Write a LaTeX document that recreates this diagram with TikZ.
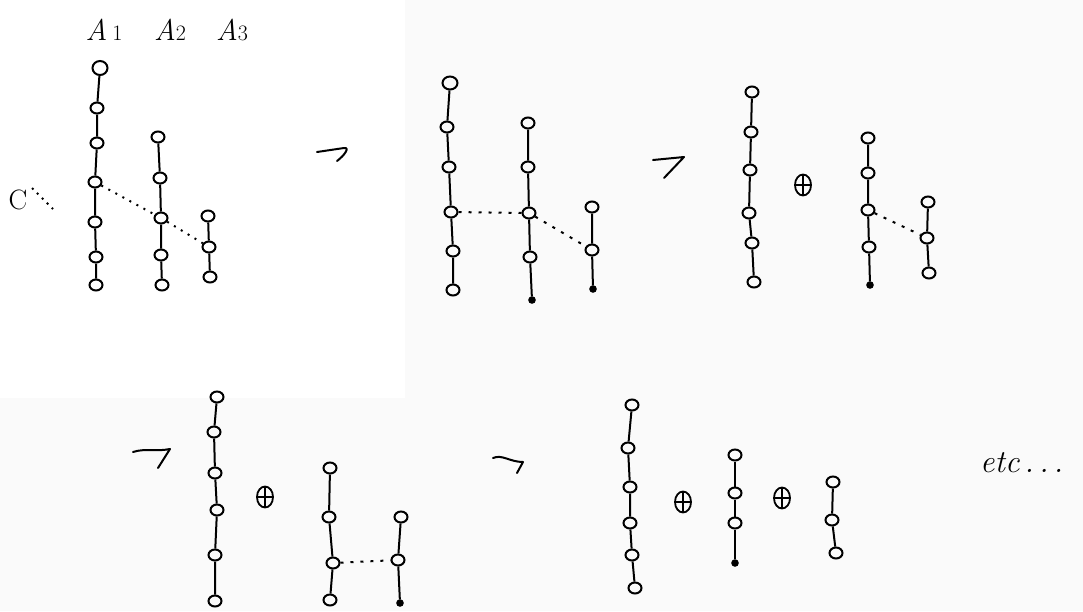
\documentclass[tikz,border=0pt]{standalone}
\usepackage{fontspec}
\usetikzlibrary{shapes.geometric}
\begin{document}
\begin{tikzpicture}[x=1pt,y=-1pt,
  ring/.style={ellipse,draw,line width=2pt,inner sep=0pt,minimum width=13pt,minimum height=11pt},
  fdot/.style={circle,draw,fill=black,line width=1pt,inner sep=0pt,minimum size=6.5pt},
  chain/.style={line width=2pt},
  link/.style={line width=2pt,dash pattern=on 3pt off 7pt},
  oplus/.style={ellipse,draw,line width=1.8pt,inner sep=0pt,minimum width=16pt,minimum height=21pt,
    path picture={\draw[line width=1.5pt] (path picture bounding box.north) -- (path picture bounding box.south)
      (path picture bounding box.west) -- (path picture bounding box.east);}},
  hand/.style={line width=2pt,line cap=round,line join=round},
  lab/.style={font=\fontsize{30}{34}\selectfont\itshape}]
\useasboundingbox (0,0) rectangle (1083,611);
\fill[black!2] (405,0) rectangle (1083,398);
\fill[black!2] (0,398) rectangle (1083,611);

% ---------- labels ----------
\node[lab] (lA1) at (104,30) {A\,{\fontsize{22}{26}\selectfont\upshape 1}};
\node[lab] (lA2) at (170,30) {A{\fontsize{22}{26}\selectfont\upshape 2}};
\node[lab] (lA3) at (232,30) {A{\fontsize{22}{26}\selectfont\upshape 3}};

% ---------- figure 1 ----------
\node[font=\fontsize{28}{32}\selectfont] (lC) at (18,200) {C};
\coordinate (c0) at (32,188);
\coordinate (c1) at (53,209);
\draw[line width=2pt,dash pattern=on 2pt off 5pt] (c0) -- (c1);

\node[ring,minimum width=15pt,minimum height=14pt] (a11) at (100,68) {};
\node[ring] (a12) at (97,108) {};
\node[ring] (a13) at (97,143) {};
\node[ring] (a14) at (95,182) {};
\node[ring] (a15) at (95,222) {};
\node[ring] (a16) at (96,257) {};
\node[ring] (a17) at (96,285) {};
\draw[chain] (a11)--(a12)--(a13)--(a14)--(a15)--(a16)--(a17);

\node[ring] (a21) at (158,137) {};
\node[ring] (a22) at (160,178) {};
\node[ring] (a23) at (161,218) {};
\node[ring] (a24) at (161,255) {};
\node[ring] (a25) at (162,285) {};
\draw[chain] (a21)--(a22)--(a23)--(a24)--(a25);

\node[ring] (a31) at (208,216) {};
\node[ring] (a32) at (209,247) {};
\node[ring] (a33) at (210,277) {};
\draw[chain] (a31)--(a32)--(a33);

\draw[line width=2pt,dash pattern=on 2pt off 6pt] (a14)--(a23)--(a32);

\coordinate (r1a) at (317,152);
\coordinate (r1b) at (344,148);
\coordinate (r1c) at (337,161);
\draw[hand] (r1a) -- (r1b) .. controls (350,147) and (345,155) .. (r1c);

% ---------- figure 2 ----------
\node[ring,minimum width=15pt,minimum height=13pt] (b11) at (450,83) {};
\node[ring] (b12) at (447,127) {};
\node[ring] (b13) at (449,167) {};
\node[ring] (b14) at (451,212) {};
\node[ring] (b15) at (453,251) {};
\node[ring] (b16) at (453,290) {};
\draw[chain] (b11)--(b12)--(b13)--(b14)--(b15)--(b16);

\node[ring] (b21) at (528,123) {};
\node[ring] (b22) at (528,167) {};
\node[ring] (b23) at (529,213) {};
\node[ring] (b24) at (530,257) {};
\node[fdot] (b25) at (532,300) {};
\draw[chain] (b21)--(b22)--(b23)--(b24)--(b25);

\node[ring] (b31) at (592,207) {};
\node[ring] (b32) at (592,250) {};
\node[fdot] (b33) at (593,289) {};
\draw[chain] (b31)--(b32)--(b33);

\draw[link] (b14)--(b23)--(b32);

\coordinate (r2a) at (653,160);
\coordinate (r2b) at (684,157);
\coordinate (r2c) at (664,178);
\draw[hand] (r2a) -- (r2b) -- (r2c);

% ---------- figure 3 ----------
\node[ring] (c11) at (752,92) {};
\node[ring] (c12) at (751,132) {};
\node[ring] (c13) at (750,170) {};
\node[ring] (c14) at (749,213) {};
\node[ring] (c15) at (752,243) {};
\node[ring] (c16) at (754,282) {};
\draw[chain] (c11)--(c12)--(c13)--(c14)--(c15)--(c16);

\node[oplus] (p1) at (803,185) {};

\node[ring] (c21) at (868,138) {};
\node[ring] (c22) at (868,173) {};
\node[ring] (c23) at (868,210) {};
\node[ring] (c24) at (869,247) {};
\node[fdot] (c25) at (870,285) {};
\draw[chain] (c21)--(c22)--(c23)--(c24)--(c25);

\node[ring] (c31) at (928,202) {};
\node[ring] (c32) at (927,238) {};
\node[ring] (c33) at (929,273) {};
\draw[chain] (c31)--(c32)--(c33);

\draw[link] (c23)--(c32);

% ---------- figure 4 ----------
\coordinate (r3a) at (133,452);
\coordinate (r3b) at (170,449);
\coordinate (r3c) at (158,468);
\draw[hand] (r3a) .. controls (145,448) and (155,452) .. (r3b) -- (r3c);

\node[ring] (d11) at (217,397) {};
\node[ring] (d12) at (214,432) {};
\node[ring] (d13) at (215,473) {};
\node[ring] (d14) at (217,510) {};
\node[ring] (d15) at (215,555) {};
\node[ring] (d16) at (215,601) {};
\draw[chain] (d11)--(d12)--(d13)--(d14)--(d15)--(d16);

\node[oplus] (p2) at (265,497) {};

\node[ring] (d21) at (330,468) {};
\node[ring] (d22) at (329,517) {};
\node[ring] (d23) at (333,563) {};
\node[ring] (d24) at (330,600) {};
\draw[chain] (d21)--(d22)--(d23)--(d24);

\node[ring] (d31) at (401,517) {};
\node[ring] (d32) at (398,560) {};
\node[fdot] (d33) at (400,603) {};
\draw[chain] (d31)--(d32)--(d33);

\draw[link] (d23)--(d32);

% ---------- figure 5 ----------
\coordinate (r4a) at (493,458);
\coordinate (r4b) at (523,462);
\coordinate (r4c) at (517,473);
\draw[hand] (r4a) .. controls (502,454) and (510,462) .. (r4b) -- (r4c);

\node[ring] (e11) at (632,405) {};
\node[ring] (e12) at (628,448) {};
\node[ring] (e13) at (630,487) {};
\node[ring] (e14) at (630,523) {};
\node[ring] (e15) at (632,555) {};
\node[ring] (e16) at (635,588) {};
\draw[chain] (e11)--(e12)--(e13)--(e14)--(e15)--(e16);

\node[oplus] (p3) at (683,502) {};

\node[ring] (e21) at (735,455) {};
\node[ring] (e22) at (735,493) {};
\node[ring] (e23) at (735,523) {};
\node[fdot] (e24) at (735,563) {};
\draw[chain] (e21)--(e22)--(e23)--(e24);

\node[oplus] (p4) at (782,498) {};

\node[ring] (e31) at (833,482) {};
\node[ring] (e32) at (832,520) {};
\node[ring] (e33) at (836,553) {};
\draw[chain] (e31)--(e32)--(e33);

\node[anchor=base west,font=\fontsize{32}{36}\selectfont\itshape,inner sep=0pt] (etc) at (980,472) {etc\kern5pt.\kern5pt.\kern5pt.};
\end{tikzpicture}
\end{document}
